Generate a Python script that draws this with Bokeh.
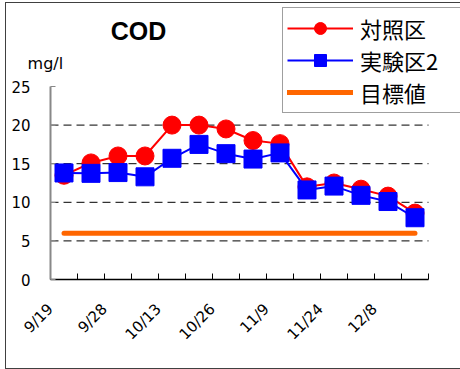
from math import pi
from bokeh.plotting import figure
from bokeh.models import Range1d, FixedTicker, Label, Legend, LegendItem, LinearAxis
from bokeh.embed import file_html
from bokeh.resources import INLINE

# ---- data ----
tick_labels = ["9/19", "9/28", "10/13", "10/26", "11/9", "11/24", "12/8"]
n_samples = 14
control = [13.5, 15.1, 16.0, 16.0, 20.0, 20.0, 19.5, 18.0, 17.6, 12.0, 12.5, 11.7, 10.8, 8.6]
exp2 = [13.8, 13.75, 13.85, 13.3, 15.7, 17.5, 16.3, 15.6, 16.4, 11.6, 12.1, 10.9, 10.1, 8.0]
target = [6, 6, 6, 6, 6, 6, 6, 6, 6, 6, 6, 6, 6, 6]
y_ticks = [0, 5, 10, 15, 20, 25]
grid_ticks = [5, 10, 15, 20]
y_max = 25

# ---- layout (pixels) ----
W, H = 455, 367
plot_left, plot_right = 45, 423      # x pixel of category 0 start / category end
plot_top, plot_bottom = 84, 277      # y pixel of y_max / 0

px_x = (plot_right - plot_left) / n_samples
px_y = (plot_bottom - plot_top) / y_max
x_range = Range1d(-plot_left / px_x, (W - plot_left) / px_x)
y_range = Range1d(-(H - plot_bottom) / px_y, plot_bottom / px_y)

xs = [i + 0.5 for i in range(n_samples)]

p = figure(width=W, height=H, output_backend="svg", toolbar_location=None,
           x_range=x_range, y_range=y_range,
           x_axis_location=None, y_axis_location=None,
           min_border=0, min_border_left=0, min_border_right=0,
           min_border_top=0, min_border_bottom=0)
p.margin = (2, 0, 0, 5)
p.border_fill_color = None
p.background_fill_color = None
p.outline_line_color = None
p.grid.visible = False
p.styles = {"box-shadow": "inset 1px 0 0 #404040, inset 0 1px 0 #404040, inset 0 -1px 0 #404040"}

# grid lines (dashed) across the category span
p.segment(x0=[0] * len(grid_ticks), x1=[n_samples] * len(grid_ticks), y0=grid_ticks, y1=grid_ticks,
          line_color="black", line_width=1, line_dash="8 5")

# y axis
yax = LinearAxis(fixed_location=0, bounds=(0, y_max))
yax.ticker = FixedTicker(ticks=y_ticks)
yax.axis_line_color = "#888888"
yax.axis_line_width = 2
yax.major_tick_in = 5
yax.major_tick_out = 0
yax.major_tick_line_color = "#888888"
yax.minor_tick_line_color = None
yax.major_label_standoff = 20
yax.major_label_text_font = "DejaVu Sans"
yax.major_label_text_font_size = "15px"
yax.major_label_text_color = "black"
p.add_layout(yax, "left")

# x axis
label_pos = [2 * k for k in range(len(tick_labels))]
xax = LinearAxis(fixed_location=0, bounds=(0, n_samples))
xax.ticker = FixedTicker(ticks=label_pos, minor_ticks=list(range(n_samples + 1)))
xax.major_label_overrides = {pos: lab for pos, lab in zip(label_pos, tick_labels)}
xax.axis_line_color = "black"
xax.axis_line_width = 1.5
xax.major_tick_line_color = None
xax.major_tick_in = 0
xax.major_tick_out = 0
xax.minor_tick_in = 6
xax.minor_tick_out = 0
xax.minor_tick_line_color = "black"
xax.minor_tick_line_width = 1
xax.major_label_orientation = pi / 4
xax.major_label_standoff = 27
xax.major_label_text_font = "DejaVu Sans"
xax.major_label_text_font_size = "15px"
xax.major_label_text_color = "black"
p.add_layout(xax, "below")

# series
r_line = p.line(xs, control, line_color="#FF0000", line_width=2)
r_pts = p.scatter(xs, control, marker="circle", size=18, fill_color="#FF0000", line_color="#FF0000")
b_line = p.line(xs, exp2, line_color="#0000FF", line_width=2)
b_pts = p.scatter(xs, exp2, marker="square", size=18, fill_color="#0000FF", line_color="#0000FF")
t_line = p.line(xs, target, line_color="#FF6600", line_width=5, line_cap="round")

legend = Legend(items=[
    LegendItem(label="対照区", renderers=[r_line, r_pts]),
    LegendItem(label="実験区2", renderers=[b_line, b_pts]),
    LegendItem(label="目標値", renderers=[t_line]),
], location=(277, H - 111))
legend.border_line_color = "#404040"
legend.border_line_width = 1
legend.background_fill_color = "white"
legend.background_fill_alpha = 1
legend.padding = 4
legend.spacing = 0
legend.margin = 0
legend.glyph_width = 66
legend.glyph_height = 30
legend.label_standoff = 7
legend.label_width = 96
legend.label_text_font = "Noto Sans CJK JP"
legend.label_text_font_size = "22px"
legend.label_text_color = "black"
p.add_layout(legend, "center")

# title and unit (positioned in data space above the value axis)
p.add_layout(Label(x=3.26, y=32.2, text="COD", text_align="center", text_baseline="middle",
                   text_font="Liberation Sans", text_font_style="bold", text_font_size="25px",
                   text_color="black"))
p.add_layout(Label(x=-0.85, y=27.98, text="mg/l", text_align="left", text_baseline="middle",
                   text_font="DejaVu Sans", text_font_size="16px", text_color="black"))

open("out.html", "w").write(file_html(p, INLINE))
